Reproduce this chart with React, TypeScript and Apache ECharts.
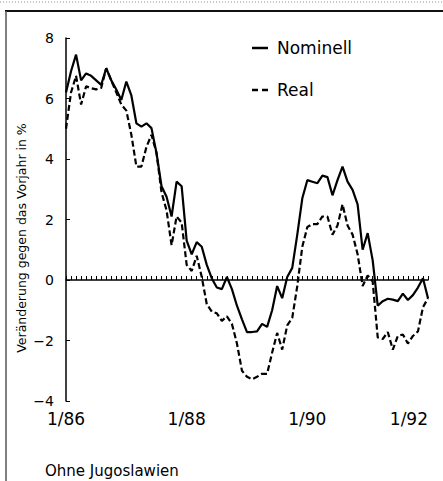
import React, { useEffect, useRef } from "react";
import * as echarts from "echarts";

// months since 1/86 (0..72)
const xTickLabels = ["1/86", "1/88", "1/90", "1/92"];
const yTicks = [-4, -2, 0, 2, 4, 6, 8];

const nominell = [
  6.2, 6.9, 7.45, 6.6, 6.83, 6.75, 6.6, 6.45, 7.0, 6.6, 6.3, 5.95,
  6.56, 6.1, 5.18, 5.07, 5.18, 5.02, 4.2, 3.1, 2.75, 2.1, 3.25, 3.1,
  1.3, 0.85, 1.25, 1.1, 0.5, 0.05, -0.25, -0.3, 0.1, -0.3, -0.85, -1.3,
  -1.72, -1.72, -1.7, -1.45, -1.55, -1.0, -0.2, -0.6, 0.1, 0.4, 1.5, 2.7,
  3.3, 3.25, 3.2, 3.45, 3.4, 2.8, 3.3, 3.75, 3.25, 2.98, 2.5, 1.0,
  1.55, 0.65, -0.85, -0.7, -0.62, -0.65, -0.7, -0.45, -0.66, -0.5, -0.25, 0.06,
  -0.6,
];

const real = [
  5.0, 6.2, 6.75, 5.8, 6.4, 6.34, 6.3, 6.35, 7.0, 6.6, 6.2, 5.8,
  5.6, 4.8, 3.75, 3.75, 4.4, 4.8, 4.2, 2.9, 2.3, 1.15, 2.1, 1.9,
  0.5, 0.3, 0.8, 0.1, -0.8, -1.05, -1.1, -1.35, -1.2, -1.45, -2.1, -3.0,
  -3.2, -3.28, -3.2, -3.1, -3.1, -2.4, -1.75, -2.3, -1.5, -1.25, -0.2, 1.1,
  1.75, 1.85, 1.85, 2.1, 2.1, 1.5, 1.8, 2.5, 1.8, 1.5, 0.85, -0.2,
  0.15, -0.05, -1.9, -1.95, -1.72, -2.3, -1.85, -1.8, -2.1, -1.85, -1.7, -0.9,
  -0.6,
];

const seriesNames = ["Nominell", "Real"];
const yAxisTitle = "Veränderung gegen das Vorjahr in %";
const footnote = "Ohne Jugoslawien";

const FONT = "DejaVu Sans";

export default function App() {
  const ref = useRef<HTMLDivElement>(null);

  useEffect(() => {
    document.body.style.margin = "0";
    if (!ref.current) return;
    const chart = echarts.init(ref.current, undefined, { renderer: "svg" });
    const toPairs = (arr: number[]) => arr.map((v, i) => [i, v]);
    chart.setOption({
      animation: false,
      backgroundColor: "#fff",
      grid: { left: 66, right: 15, top: 38, bottom: 80, containLabel: false },
      xAxis: [
        {
          type: "value",
          min: 0,
          max: 72,
          interval: 24,
          position: "bottom",
          axisLine: { show: false, onZero: false },
          axisTick: { show: false },
          splitLine: { show: false },
          axisLabel: {
            show: true,
            margin: 9,
            color: "#000",
            fontFamily: FONT,
            fontSize: 17,
            alignMaxLabel: "right",
            formatter: (v: number) => xTickLabels[Math.round(v / 24)] ?? "",
          },
        },
        {
          type: "value",
          min: 0,
          max: 72,
          interval: 1,
          position: "bottom",
          axisLine: { show: true, onZero: true, lineStyle: { color: "#000", width: 1.5 } },
          axisTick: { show: true, inside: true, length: 4, lineStyle: { color: "#000", width: 1 } },
          splitLine: { show: false },
          axisLabel: { show: false },
        },
      ],
      yAxis: {
        type: "value",
        min: yTicks[0],
        max: yTicks[yTicks.length - 1],
        interval: 2,
        axisLine: { show: true, onZero: false, lineStyle: { color: "#000", width: 1.5 } },
        axisTick: { show: true, inside: true, length: 4, lineStyle: { color: "#000", width: 1 } },
        splitLine: { show: false },
        axisLabel: {
          margin: 12,
          color: "#000",
          fontFamily: FONT,
          fontSize: 14,
          formatter: (v: number) => String(v).replace("-", "\u2212"),
        },
      },
      series: [
        {
          name: seriesNames[0],
          type: "line",
          xAxisIndex: 0,
          data: toPairs(nominell),
          showSymbol: false,
          symbol: "none",
          lineStyle: { color: "#000", width: 2.2 },
          z: 3,
        },
        {
          name: seriesNames[1],
          type: "line",
          xAxisIndex: 0,
          data: toPairs(real),
          showSymbol: false,
          symbol: "none",
          lineStyle: { color: "#000", width: 2.2, type: [6, 3] },
          z: 3,
        },
      ],
      graphic: [
        // frame
        { type: "line", shape: { x1: 0, y1: 2, x2: 443, y2: 2 }, style: { stroke: "#c8c8c8", lineWidth: 2, lineDash: [1, 2] } },
        { type: "line", shape: { x1: 5, y1: 11, x2: 443, y2: 11 }, style: { stroke: "#111", lineWidth: 2 } },
        { type: "line", shape: { x1: 6, y1: 11, x2: 6, y2: 481 }, style: { stroke: "#555", lineWidth: 1.5 } },
        // legend
        { type: "line", shape: { x1: 252, y1: 48, x2: 268, y2: 48 }, style: { stroke: "#000", lineWidth: 2.5 } },
        {
          type: "text", x: 277, y: 48,
          style: { text: seriesNames[0], fill: "#000", font: `17px "${FONT}"`, textVerticalAlign: "middle", verticalAlign: "middle" },
        },
        { type: "line", shape: { x1: 252, y1: 90, x2: 268, y2: 90 }, style: { stroke: "#000", lineWidth: 2.5, lineDash: [6, 4] } },
        {
          type: "text", x: 277, y: 90,
          style: { text: seriesNames[1], fill: "#000", font: `17px "${FONT}"`, textVerticalAlign: "middle", verticalAlign: "middle" },
        },
        // y-axis title
        {
          type: "text", x: 21, y: 238, rotation: Math.PI / 2,
          style: { text: yAxisTitle, fill: "#000", font: `12.5px "${FONT}"`, textAlign: "center", align: "center", textVerticalAlign: "middle", verticalAlign: "middle" },
        },
        // footnote
        {
          type: "text", x: 45, y: 471,
          style: { text: footnote, fill: "#000", font: `15px "${FONT}"`, textVerticalAlign: "middle", verticalAlign: "middle" },
        },
      ],
    });
    return () => chart.dispose();
  }, []);

  return <div ref={ref} style={{ width: 443, height: 481 }} />;
}
